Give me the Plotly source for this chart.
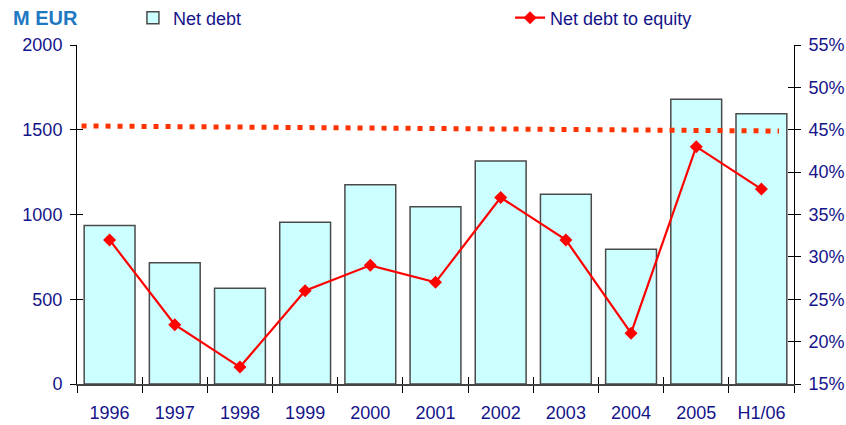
import plotly.graph_objects as go

categories = ["1996", "1997", "1998", "1999", "2000", "2001", "2002", "2003", "2004", "2005", "H1/06"]
net_debt = [935, 715, 565, 955, 1175, 1045, 1315, 1120, 795, 1680, 1595]
net_debt_to_equity = [32, 22, 17, 26, 29, 27, 37, 32, 21, 43, 38]
ref_x = [-0.43, 10.27]
ref_y = [45.45, 44.85]

FONT = "Liberation Sans, Arial, sans-serif"
NAVY = "#14148a"

fig = go.Figure()

fig.add_trace(go.Bar(
    x=categories, y=net_debt, name="Net debt",
    marker=dict(color="#ccffff", line=dict(color="#4a4a4a", width=1.5)),
    xaxis="x", yaxis="y", legend="legend",
))

fig.add_trace(go.Scatter(
    x=ref_x, y=ref_y, mode="lines", showlegend=False,
    line=dict(color="#ff3300", width=5, dash="5px,7px"),
    xaxis="x2", yaxis="y2", hoverinfo="skip",
))

fig.add_trace(go.Scatter(
    x=categories, y=net_debt_to_equity, name="Net debt to equity",
    mode="lines+markers",
    line=dict(color="#ff0000", width=2.2),
    marker=dict(symbol="diamond", size=10, color="#ff0000"),
    xaxis="x", yaxis="y2", legend="legend2",
))

# empty helper traces for the inner half of crossing ticks
fig.add_trace(go.Scatter(x=[], y=[], xaxis="x", yaxis="y3", showlegend=False))
fig.add_trace(go.Scatter(x=[], y=[], xaxis="x", yaxis="y4", showlegend=False))

tickfont = dict(family=FONT, size=18, color=NAVY)

fig.update_layout(
    width=846, height=425,
    margin=dict(l=77, r=52, t=45, b=41, autoexpand=False),
    paper_bgcolor="white", plot_bgcolor="white",
    font=dict(family=FONT, size=18, color=NAVY),
    bargap=0.22,
    xaxis=dict(
        type="category", tickson="boundaries", ticks="outside", ticklen=7,
        tickcolor="black", tickwidth=1, showline=True, linecolor="#444444", linewidth=2,
        showgrid=False, tickfont=tickfont, ticklabelstandoff=11,
        range=[-0.5, 10.5], automargin=False,
    ),
    xaxis2=dict(
        type="linear", overlaying="x", anchor="y", side="bottom",
        range=[-0.5, 10.5], tick0=-0.5, dtick=1, ticks="inside", ticklen=7,
        tickcolor="black", showticklabels=False, showline=False, showgrid=False,
        zeroline=False,
    ),
    yaxis=dict(
        range=[0, 2000], dtick=500, ticks="outside", ticklen=6, tickcolor="black",
        showline=True, linecolor="black", linewidth=1, showgrid=False,
        zeroline=False, tickfont=tickfont, ticklabelstandoff=4, automargin=False,
    ),
    yaxis2=dict(
        range=[15, 55], dtick=5, ticksuffix="%", overlaying="y", side="right",
        ticks="outside", ticklen=6, tickcolor="black",
        showline=True, linecolor="black", linewidth=1, showgrid=False,
        zeroline=False, tickfont=tickfont, ticklabelstandoff=4, automargin=False,
    ),
    yaxis3=dict(
        range=[0, 2000], dtick=500, overlaying="y", side="left",
        ticks="inside", ticklen=6, tickcolor="black", showticklabels=False,
        showline=False, showgrid=False, zeroline=False,
    ),
    yaxis4=dict(
        range=[15, 55], dtick=5, overlaying="y", side="right",
        ticks="inside", ticklen=6, tickcolor="black", showticklabels=False,
        showline=False, showgrid=False, zeroline=False,
    ),
    legend=dict(
        x=0.078, y=1.0796, xanchor="left", yanchor="middle",
        orientation="h", bgcolor="rgba(0,0,0,0)",
        font=dict(family=FONT, size=18, color=NAVY),
    ),
    legend2=dict(
        x=0.604, y=1.0796, xanchor="left", yanchor="middle",
        orientation="h", bgcolor="rgba(0,0,0,0)",
        font=dict(family=FONT, size=18, color=NAVY),
    ),
    annotations=[dict(
        text="<b>M EUR</b>", xref="paper", yref="paper",
        x=-0.092, y=1.0796, xanchor="left", yanchor="middle", showarrow=False,
        font=dict(family=FONT, size=20, color="#1e78c2"),
    )],
)

fig.write_html("out.html")
